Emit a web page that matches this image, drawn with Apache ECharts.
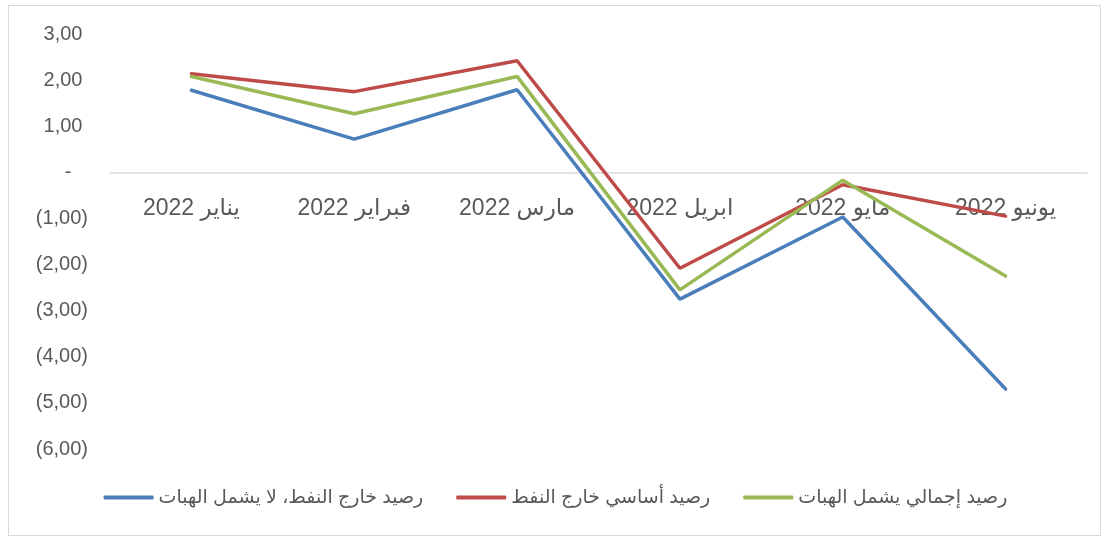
<!DOCTYPE html>
<html>
<head>
<meta charset="utf-8">
<script src="https://cdn.jsdelivr.net/npm/echarts@6/dist/echarts.min.js"></script>
<style>
  html, body { margin: 0; padding: 0; background: #fff; }
  #frame { position: absolute; left: 8px; top: 5px; width: 1091px; height: 529px; border: 1px solid #d9d9d9; }
  #chart { width: 1111px; height: 541px; }
</style>
</head>
<body>
<div id="frame"></div>
<div id="chart"></div>
<script>
  // أشهر 2022
  const months = ['يناير 2022', 'فبراير 2022', 'مارس 2022', 'ابريل 2022', 'مايو 2022', 'يونيو 2022']
  const seriesNames = ['رصيد خارج النفط، لا يشمل الهبات', 'رصيد أساسي خارج النفط', 'رصيد إجمالي يشمل الهبات']
  const nonOilNoGrants = [1.78, 0.72, 1.79, -2.75, -0.97, -4.70]
  const coreNonOil = [2.14, 1.75, 2.42, -2.08, -0.27, -0.95]
  const overallWithGrants = [2.08, 1.27, 2.08, -2.55, -0.17, -2.25]
  const colors = ['#4a7ebb', '#be4b48', '#98b954']

  const font = "'Liberation Sans', 'DejaVu Sans', sans-serif"
  const yMin = -6, yMax = 3
  const gridTop = 34, gridBottom = 92, chartH = 541

  function fmt (v) {
    if (Math.abs(v) < 1e-9) return '-   '
    let s = Math.abs(v).toFixed(2).replace('.', ',')
    return v < 0 ? '(' + s + ')' : s + ' '
  }

  // المحور الأفقي يمر بالصفر
  let plotH = chartH - gridTop - gridBottom
  let zeroOffset = -plotH * (0 - yMin) / (yMax - yMin)

  let chart = echarts.init(document.getElementById('chart'))
  chart.setOption({
    animation: false,
    textStyle: {fontFamily: font},
    grid: {left: 110, right: 24, top: gridTop, bottom: gridBottom},
    legend: {
      bottom: 29,
      left: 'center',
      icon: 'roundRect',
      itemWidth: 50,
      itemHeight: 4,
      itemGap: 33,
      textStyle: {fontSize: 19, color: '#595959', fontFamily: font},
      data: seriesNames
    },
    xAxis: {
      type: 'category',
      data: months,
      boundaryGap: true,
      offset: zeroOffset,
      axisLine: {onZero: false, lineStyle: {color: '#d9d9d9', width: 1.5}},
      axisTick: {show: false},
      axisLabel: {
        fontSize: 23,
        color: '#595959',
        margin: 25,
        formatter: function (v) { return '\u202B' + v + '\u202C' }
      }
    },
    yAxis: {
      type: 'value',
      min: yMin,
      max: yMax,
      interval: 1,
      splitLine: {show: false},
      axisLine: {show: false},
      axisTick: {show: false},
      axisLabel: {fontSize: 20, color: '#595959', margin: 22, formatter: fmt}
    },
    series: [
      {name: seriesNames[0], type: 'line', data: nonOilNoGrants, color: colors[0]},
      {name: seriesNames[1], type: 'line', data: coreNonOil, color: colors[1]},
      {name: seriesNames[2], type: 'line', data: overallWithGrants, color: colors[2]}
    ].map(s => Object.assign(s, {
      symbol: 'none',
      lineStyle: {width: 3.5, cap: 'round'}
    }))
  })
</script>
</body>
</html>
